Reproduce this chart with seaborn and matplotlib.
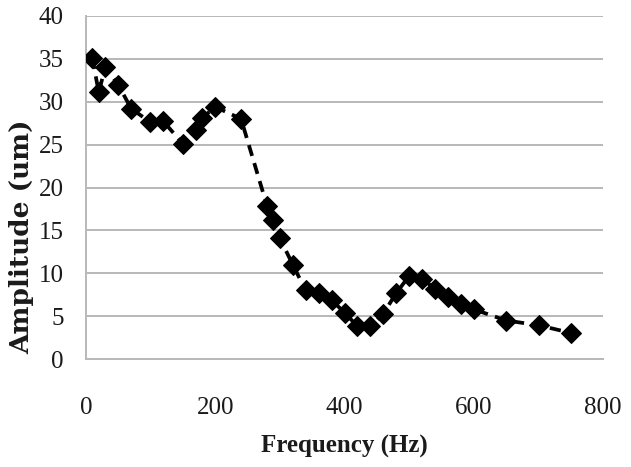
import matplotlib
matplotlib.use("Agg")
import matplotlib.pyplot as plt
import seaborn as sns
import pandas as pd

# frequency sweep
freq_hz = [10, 20, 30, 50, 70, 100, 120, 150, 170, 180, 200, 240, 280, 290, 300,
           320, 340, 360, 380, 400, 420, 440, 460, 480, 500, 520, 540, 560, 580,
           600, 650, 700, 750]
amplitude_um = [35.1, 31.1, 34.0, 32.0, 29.2, 27.6, 27.7, 25.1, 26.7, 28.1, 29.4,
                28.0, 17.9, 16.2, 14.1, 11.0, 8.0, 7.7, 6.9, 5.4, 3.85, 3.85, 5.3,
                7.7, 9.7, 9.35, 8.2, 7.2, 6.4, 5.8, 4.5, 3.95, 3.05]
x_ticks = [0, 200, 400, 600, 800]
y_ticks = [0, 5, 10, 15, 20, 25, 30, 35, 40]

df = pd.DataFrame({"Frequency (Hz)": freq_hz, "Amplitude (um)": amplitude_um})

sns.set_style("white")
plt.rcParams["font.family"] = ["Liberation Serif", "DejaVu Serif"]

fig = plt.figure(figsize=(6.31, 4.67), dpi=100)
ax = fig.add_axes([0.136, 0.231, 0.82, 0.735])

grid_color = "#b8b8b8"
text_color = "#1a1a1a"
for y in y_ticks[1:]:
    ax.axhline(y, color=grid_color, lw=1.4, zorder=0)

sns.lineplot(data=df, x="Frequency (Hz)", y="Amplitude (um)", ax=ax,
             color="black", lw=2.7, linestyle=(0, (3.0, 2.0)),
             marker="D", markersize=10, markeredgecolor="black",
             markerfacecolor="black", zorder=3)

ax.set_xlim(0, 800)
ax.set_ylim(0, 40)
ax.set_xticks(x_ticks)
ax.set_yticks(y_ticks)
ax.tick_params(axis="both", labelsize=18, colors=grid_color, labelcolor=text_color,
               length=6, width=1.4, direction="out")
ax.tick_params(axis="x", pad=21)
ax.tick_params(axis="y", pad=10)

for side in ["top", "right"]:
    ax.spines[side].set_visible(False)
for side in ["left", "bottom"]:
    ax.spines[side].set_color(grid_color)
    ax.spines[side].set_linewidth(1.4)

ax.set_xlabel("Frequency (Hz)", fontsize=18, fontweight="bold", color=text_color)
ax.xaxis.set_label_coords(0.5, -0.222)
ax.set_ylabel("Amplitude (um)", fontsize=19, fontweight="bold", color=text_color,
              family=["DejaVu Serif"])
ax.yaxis.set_label_coords(-0.1, 0.356)

fig.savefig("out.png", dpi=100)
